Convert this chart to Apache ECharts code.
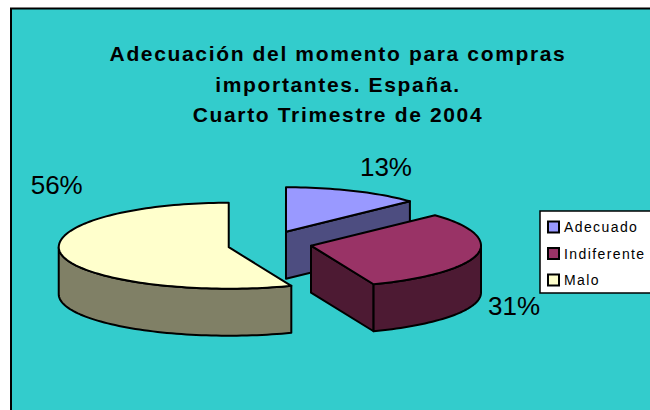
<!DOCTYPE html>
<html><head><meta charset="utf-8">
<style>
html,body{margin:0;padding:0;background:#fff}
#c{width:650px;height:410px}
</style>
<script src="https://cdn.jsdelivr.net/npm/echarts@6/dist/echarts.min.js"></script>
</head><body><div id="c"></div>
<script>
const categories = ['Adecuado', 'Indiferente', 'Malo'];
const values = [13, 31, 56];
const titleLines = ['Adecuación del momento para compras', 'importantes. España.', 'Cuarto Trimestre de 2004'];

const topColors = ['#9999FF', '#993366', '#FFFFCC'];
const sideColors = ['#4D4D80', '#4D1A33', '#808066'];
const labelOffsets = [[100, -65], [203, 60], [-172, -62]];
const sliceNudges = [[0, 0], [1, -2], [0, 0]];
const pie = {cx: 269.5, cy: 244.6, rx: 170, ryBack: 44.5, ryFront: 41.5, depth: 47, ex: 41.5, ey: 14};
const TITLE_SPACING = 1.65, LEGEND_SPACING = 1.4;

const total = values.reduce((a, b) => a + b, 0);
const TAU = Math.PI * 2;

function ptY(ay, t) {
  const c = Math.cos(t);
  return ay - (c > 0 ? pie.ryBack : pie.ryFront) * c;
}
function arc(ax, ay, t0, t1, dy) {
  const pts = [], n = Math.max(2, Math.ceil((t1 - t0) / 0.03));
  for (let i = 0; i <= n; i++) {
    const t = t0 + (t1 - t0) * i / n;
    pts.push([ax + pie.rx * Math.sin(t), ptY(ay, t) + dy]);
  }
  return pts;
}
function poly(points, fill) {
  return {type: 'polygon', shape: {points}, style: {fill, stroke: '#000', lineWidth: 2, lineJoin: 'round'}};
}
let running = 0;
const series = categories.map((name, i) => {
  const t0 = running / total * TAU;
  running += values[i];
  const t1 = running / total * TAU;
  return {
    type: 'custom', name, coordinateSystem: 'none', silent: true, z: 3 + i,
    itemStyle: {color: topColors[i]},
    data: [[values[i]]],
    renderItem(params, api) {
      const share = api.value(0) / total;
      const mid = (t0 + t1) / 2;
      const ax = pie.cx + pie.ex * Math.sin(mid) + sliceNudges[i][0];
      const ay = pie.cy - pie.ey * Math.cos(mid) + sliceNudges[i][1];
      const children = [];
      const end = [ax + pie.rx * Math.sin(t1), ptY(ay, t1)];
      if (Math.sin(t1) > 1e-6) {
        children.push(poly([[ax, ay], end, [end[0], end[1] + pie.depth], [ax, ay + pie.depth]], sideColors[i]));
      }
      const a = Math.max(t0, Math.PI / 2), b = Math.min(t1, Math.PI * 1.5);
      if (b > a) {
        children.push(poly(arc(ax, ay, a, b, 0).concat(arc(ax, ay, a, b, pie.depth).reverse()), sideColors[i]));
      }
      children.push(poly([[ax, ay]].concat(arc(ax, ay, t0, t1, 0)), topColors[i]));
      children.push({
        type: 'text',
        style: {
          text: Math.round(share * 100) + '%',
          x: ax + labelOffsets[i][0], y: ay + labelOffsets[i][1],
          fill: '#000', font: '26px "Liberation Sans", Arial, sans-serif',
          align: 'center', verticalAlign: 'middle'
        }
      });
      return {type: 'group', children};
    }
  };
});

const chart = echarts.init(document.getElementById('c'), null, {renderer: 'svg'});
chart.setOption({
  animation: false,
  backgroundColor: '#fff',
  title: {
    text: titleLines.join('\n'),
    left: 333, top: 33.5, textAlign: 'center',
    textStyle: {fontFamily: '"Liberation Sans", Arial, sans-serif', fontWeight: 'bold', fontSize: 21, lineHeight: 30.5, color: '#000'}
  },
  legend: {
    orient: 'vertical', left: 540, top: 211,
    data: categories, icon: 'rect', itemWidth: 11, itemHeight: 11, itemGap: 12.5,
    padding: [9, 40, 6, 7],
    backgroundColor: '#fff', borderColor: '#000', borderWidth: 1.5, borderRadius: 0,
    itemStyle: {borderColor: '#000', borderWidth: 2},
    textStyle: {fontFamily: '"Liberation Sans", Arial, sans-serif', fontSize: 14, color: '#000'},
    z: 10
  },
  graphic: [{type: 'rect', z: -1, silent: true, shape: {x: 11, y: 8.5, width: 800, height: 600},
    style: {fill: '#33CCCC', stroke: '#000', lineWidth: 2}}],
  series
});
document.querySelectorAll('#c text').forEach(t => {
  const s = t.getAttribute('style') || '';
  if (s.includes('21px')) t.style.letterSpacing = TITLE_SPACING + 'px';
  else if (s.includes('14px')) t.style.letterSpacing = LEGEND_SPACING + 'px';
});
</script></body></html>
